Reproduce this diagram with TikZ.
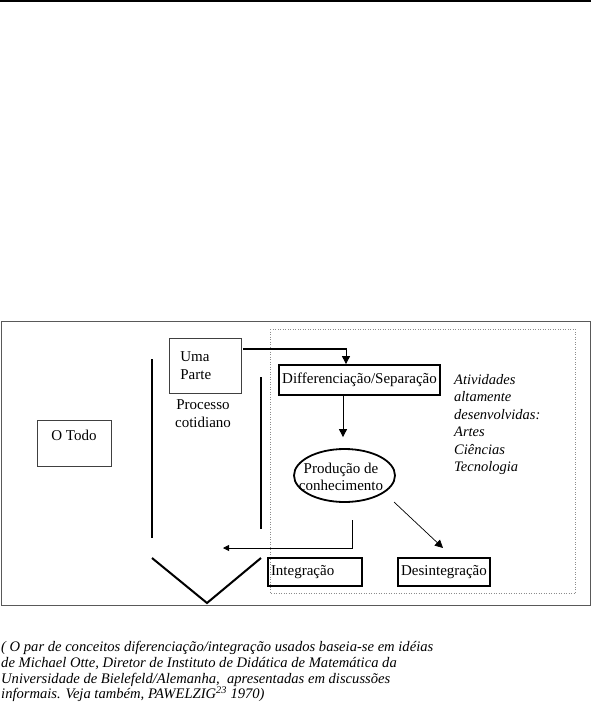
\documentclass[tikz,border=0pt]{standalone}
\usepackage{fontspec}
\setmainfont{Liberation Serif}
\usetikzlibrary{arrows.meta,shapes.geometric}
\begin{document}
\begin{tikzpicture}[x=1pt,y=-1pt,
  txt/.style={font=\fontsize{15}{18}\selectfont, inner sep=0pt},
  thinbox/.style={draw=black!75, line width=0.8pt, inner sep=0pt},
  thickbox/.style={draw, line width=1.8pt, inner sep=3pt, font=\fontsize{15}{18}\selectfont},
  bar/.style={line width=2pt},
  arr/.style={-{Triangle[length=8pt,width=8pt]}},
  arrsmall/.style={-{Triangle[length=6pt,width=6pt]}},
  itxt/.style={font=\fontsize{14.5}{17.5}\selectfont\itshape, inner sep=0pt, align=left},
  captxt/.style={font=\fontsize{14.6}{15.8}\selectfont\itshape, inner sep=0pt, align=left}
]
\useasboundingbox (0,0) rectangle (591,705);
\fill[white] (0,0) rectangle (591,705);
% top rule
\draw[line width=1.5pt] (0,0.75) -- (591,0.75);
% frames
\draw[black!65, line width=0.9pt] (1,321) rectangle (590,605);
\draw[black!45, dotted, line width=0.5pt] (270,329) rectangle (575,593);
% boxes
\node[thinbox, minimum width=74pt, minimum height=46pt] (todo) at (74,443) {};
\node[txt] (todotxt) at ([yshift=8pt]todo.center) {O Todo};
\node[thinbox, anchor=north west, minimum width=66pt, minimum height=55pt,
      text width=50pt, align=left, inner xsep=11pt, font=\fontsize{15}{18}\selectfont] (upa) at (169,338) {Uma\\Parte};
\node[txt, align=center] (proc) at (203,414) {Processo\\cotidiano};
\node[thickbox, minimum width=161pt, minimum height=30pt, inner sep=1pt] (diff) at (359.5,380) {Differenciação/Separação};
\node[draw, ellipse, line width=1.8pt, minimum width=101pt, minimum height=53pt, inner sep=0pt] (prod) at (344.5,475.5) {};
\node[txt, align=center, font=\fontsize{15}{16.5}\selectfont] (prodtxt) at (341,477) {Produção de\\conhecimento};
\node[thickbox, minimum width=94pt, minimum height=28pt, text width=88pt, align=left] (integ) at (315,572) {Integração};
\node[thickbox, minimum width=92pt, minimum height=28pt, inner sep=1pt] (desint) at (444,572) {Desintegração};
\node[itxt, anchor=north west] (ativ) at (454,374) {Atividades\\altamente\\desenvolvidas:\\Artes\\Ciências\\Tecnologia};
% bars and V
\draw[bar] (152,359) -- (152,538);
\draw[bar] (261,377) -- (261,529);
\draw[bar] (152,558) -- (207,603) -- (261,558);
% connectors
\coordinate (a1) at (243,349);
\coordinate (a2) at (346,349);
\draw[line width=2pt] (a1) -- ([xshift=0.5pt]a2);
\draw[arr, line width=0.9pt] (a2) -- (a2 |- diff.north);
\draw[arr, line width=0.9pt, shorten >=11pt] ([xshift=-1.5pt]diff.south -| prod.north) -- ([xshift=-1.5pt]prod.north);
\coordinate (b1) at (352,520);
\coordinate (b2) at (223,548);
\draw[arrsmall, line width=0.8pt] (b1) |- (b2);
\coordinate (c1) at (394,502);
\coordinate (c2) at (443,548);
\draw[arr, line width=0.7pt] (c1) -- (c2);
% caption
\node[captxt, anchor=north west] (cap) at (1,641) {( O par de conceitos diferenciação/integração usados baseia-se em idéias\\
de Michael Otte, Diretor de Instituto de Didática de Matemática da\\
Universidade de Bielefeld/Alemanha,\ \ apresentadas em discussões\\
informais. Veja também, PAWELZIG\textsuperscript{23} 1970)};
\end{tikzpicture}
\end{document}
